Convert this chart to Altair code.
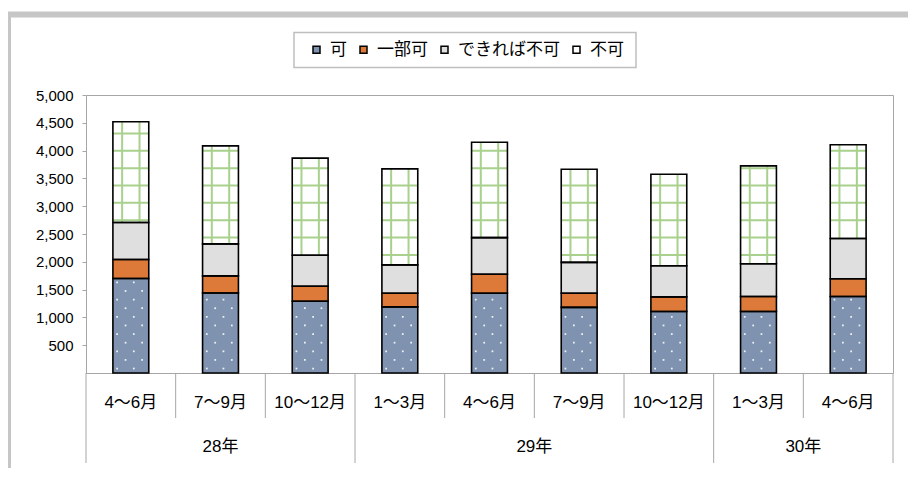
import altair as alt
import pandas as pd

# ---- data ----
periods = ["4～6月", "7～9月", "10～12月", "1～3月", "4～6月", "7～9月", "10～12月", "1～3月", "4～6月"]
years = ["28年", "29年", "30年"]
year_first_idx = [0, 3, 7]
year_last_idx = [2, 6, 8]
series = ["可", "一部可", "できれば不可", "不可"]
ka = [1700, 1440, 1290, 1190, 1435, 1180, 1105, 1105, 1375]
ichibu_ka = [342, 306, 270, 245, 340, 255, 265, 270, 320]
dekireba_fuka = [666, 576, 558, 510, 660, 555, 560, 590, 725]
fuka = [1810, 1763, 1746, 1727, 1715, 1675, 1645, 1760, 1685]
y_ticks = [500, 1000, 1500, 2000, 2500, 3000, 3500, 4000, 4500, 5000]

colors = ["#7f93b0", "#dd7a3a", "#dfdfdf", "#ffffff"]
FONT = "Liberation Sans, Noto Sans CJK JP"
W, H = 807, 278

# ---- tables built from the lists ----
rows = []
for i in range(len(periods)):
    base = 0
    for s, vals in zip(series, [ka, ichibu_ka, dekireba_fuka, fuka]):
        rows.append({"idx": i, "series": s, "y0": base, "y1": base + vals[i],
                     "xl": i + 0.3, "xr": i + 0.7})
        base += vals[i]
bars = pd.DataFrame(rows)

# decorative pattern for 不可 (green grid) and 可 (white dots)
gh, gv, dots = [], [], []
for i in range(len(periods)):
    lo = ka[i] + ichibu_ka[i] + dekireba_fuka[i]
    hi = lo + fuka[i]
    lvl = 252
    while lvl < hi:
        if lvl > lo + 20 and lvl < hi - 20:
            gh.append({"xl": i + 0.3, "xr": i + 0.7, "y": lvl})
        lvl += 312
    for off in (-0.097, 0.097):
        gv.append({"x": i + 0.5 + off, "y0": lo, "y1": hi})
    k = 0
    lvl = 80
    while lvl < ka[i] - 40:
        offs = (-0.153, 0.033) if k % 2 == 0 else (-0.059, 0.126)
        for off in offs:
            dots.append({"x": i + 0.5 + off, "y": lvl})
        lvl += 155
        k += 1
gh, gv, dots = pd.DataFrame(gh), pd.DataFrame(gv), pd.DataFrame(dots)

cat_lab = pd.DataFrame({"x": [i + 0.5 for i in range(len(periods))], "label": periods})
yr_lab = pd.DataFrame({"x": [(a + b + 1) / 2 for a, b in zip(year_first_idx, year_last_idx)],
                       "label": years})
yr_sep = pd.DataFrame({"x": year_first_idx + [len(periods)]})
cat_sep = pd.DataFrame({"x": [i for i in range(1, len(periods)) if i not in year_first_idx]})

xs = alt.Scale(domain=[0, len(periods)], nice=False, zero=False)
ys = alt.Scale(domain=[0, 5000], nice=False)
yaxis = alt.Axis(values=y_ticks, labelExpr="format(datum.value, ',')", grid=False,
                 domain=False, tickSize=4, tickColor="#a6a6a6", labelPadding=9,
                 labelOverlap=False, labelFont=FONT, labelFontSize=15,
                 labelColor="#000000", title=None)

fill_bars = alt.Chart(bars).mark_rect(strokeWidth=0).encode(
    x=alt.X("xl:Q", scale=xs, axis=None),
    x2="xr:Q",
    y=alt.Y("y0:Q", scale=ys, axis=yaxis),
    y2="y1:Q",
    color=alt.Color("series:N", scale=alt.Scale(domain=series, range=colors),
                    legend=alt.Legend(orient="none", legendX=222, legendY=-54,
                                      direction="horizontal", title=None,
                                      symbolType="square", symbolSize=49,
                                      symbolStrokeColor="#000000", symbolStrokeWidth=1.5,
                                      labelFont=FONT, labelFontSize=17, labelColor="#000000",
                                      labelOffset=5, columnPadding=8, padding=0)),
)

grid_h = alt.Chart(gh).mark_rule(color="#a9d18e", strokeWidth=2).encode(
    x=alt.X("xl:Q", scale=xs, axis=None), x2="xr:Q", y=alt.Y("y:Q", scale=ys, axis=yaxis))
grid_v = alt.Chart(gv).mark_rule(color="#a9d18e", strokeWidth=2).encode(
    x=alt.X("x:Q", scale=xs, axis=None), y=alt.Y("y0:Q", scale=ys, axis=yaxis), y2="y1:Q")
dot_layer = alt.Chart(dots).mark_square(color="#ffffff", size=3, opacity=0.9).encode(
    x=alt.X("x:Q", scale=xs, axis=None), y=alt.Y("y:Q", scale=ys, axis=yaxis))

outline = alt.Chart(bars).mark_rect(fillOpacity=0, stroke="#000000", strokeWidth=1.6).encode(
    x=alt.X("xl:Q", scale=xs, axis=None), x2="xr:Q",
    y=alt.Y("y0:Q", scale=ys, axis=yaxis), y2="y1:Q")

cat_sep_layer = alt.Chart(cat_sep).mark_rule(color="#a6a6a6", strokeWidth=1).encode(
    x=alt.X("x:Q", scale=xs, axis=None), y=alt.value(H), y2=alt.value(H + 45))
yr_sep_layer = alt.Chart(yr_sep).mark_rule(color="#a6a6a6", strokeWidth=1).encode(
    x=alt.X("x:Q", scale=xs, axis=None), y=alt.value(H), y2=alt.value(H + 90))

cat_text = alt.Chart(cat_lab).mark_text(font=FONT, fontSize=17, color="#000000",
                                        baseline="middle").encode(
    x=alt.X("x:Q", scale=xs, axis=None), y=alt.value(H + 30), text="label:N")
yr_text = alt.Chart(yr_lab).mark_text(font=FONT, fontSize=17, color="#000000",
                                      baseline="middle").encode(
    x=alt.X("x:Q", scale=xs, axis=None), y=alt.value(H + 74), text="label:N")

one = alt.Data(values=[{"a": 1}])
legend_box = alt.Chart(one).mark_rect(fillOpacity=0, stroke="#bfbfbf", strokeWidth=1.5).encode(
    x=alt.value(208), x2=alt.value(550), y=alt.value(-62.5), y2=alt.value(-27.5))
frame = alt.Chart(one).mark_rect(fillOpacity=0, stroke="#c6c6c6", strokeWidth=6).encode(
    x=alt.value(-78), x2=alt.value(840), y=alt.value(-80.5), y2=alt.value(420))

chart = alt.layer(
    frame, legend_box, fill_bars, grid_h, grid_v, dot_layer, outline,
    cat_sep_layer, yr_sep_layer, cat_text, yr_text,
).properties(
    width=W, height=H,
    autosize=alt.AutoSizeParams(type="none"),
    padding={"left": 78, "top": 87, "right": 15, "bottom": 95},
    background="#ffffff",
).configure_view(stroke="#a6a6a6", strokeWidth=1)

chart.save("out.html", embed_options={"renderer": "svg", "actions": False})
